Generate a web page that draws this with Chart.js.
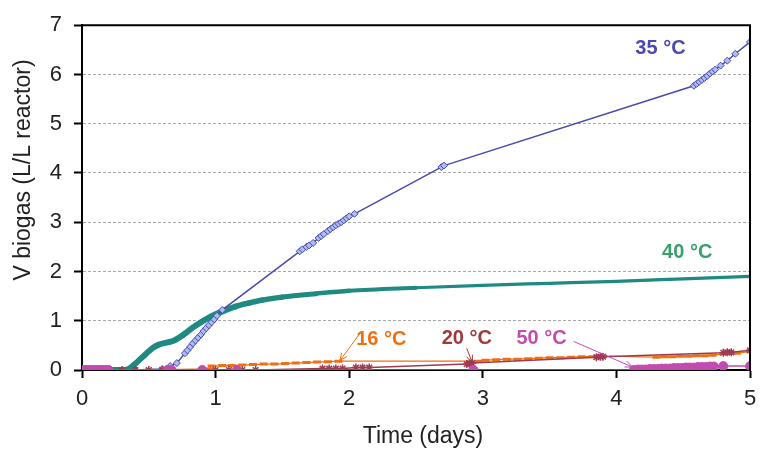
<!DOCTYPE html>
<html>
<head>
<meta charset="utf-8">
<script src="https://cdn.jsdelivr.net/npm/chart.js@4.4.1/dist/chart.umd.min.js"></script>
<style>
  html, body { margin: 0; padding: 0; background: #fff; }
</style>
</head>
<body>
<canvas id="chart" width="765" height="453"></canvas>
<script>
// [time (days), V biogas (L/L reactor)]
const xTicks = [0, 1, 2, 3, 4, 5];
const yTicks = [0, 1, 2, 3, 4, 5, 6, 7];

const temp35 = [
  [0, 0], [0.2, 0], [0.4, 0], [0.6, 0.02], [0.66, 0.08], [0.71, 0.14],
  [0.77, 0.34], [0.79, 0.4], [0.81, 0.47], [0.83, 0.54], [0.85, 0.6], [0.87, 0.66],
  [0.89, 0.72], [0.91, 0.79], [0.93, 0.85], [0.95, 0.91], [0.97, 0.97], [0.99, 1.03],
  [1.01, 1.1], [1.05, 1.22],
  [1.63, 2.41], [1.65, 2.45], [1.68, 2.5], [1.7, 2.53], [1.73, 2.58], [1.77, 2.68],
  [1.79, 2.72], [1.81, 2.76], [1.84, 2.82], [1.86, 2.86], [1.88, 2.9], [1.9, 2.94],
  [1.92, 2.97], [1.94, 3.0], [1.96, 3.04], [1.98, 3.08], [2.0, 3.12], [2.04, 3.17],
  [2.69, 4.12], [2.71, 4.15],
  [4.58, 5.77], [4.6, 5.81], [4.62, 5.85], [4.64, 5.89], [4.66, 5.93], [4.68, 5.97],
  [4.7, 6.02], [4.72, 6.06], [4.74, 6.1], [4.78, 6.18], [4.83, 6.28], [4.89, 6.42],
  [5.0, 6.66]
];

const temp40 = [
  [0, 0], [0.32, 0], [0.36, 0.04], [0.42, 0.18], [0.48, 0.33], [0.53, 0.45], [0.58, 0.52],
  [0.64, 0.56], [0.69, 0.6], [0.74, 0.68], [0.79, 0.78], [0.84, 0.88], [0.89, 0.97],
  [0.94, 1.05], [1.0, 1.13], [1.06, 1.2], [1.15, 1.29], [1.25, 1.36], [1.35, 1.42],
  [1.5, 1.48], [1.75, 1.55], [2.0, 1.61], [2.5, 1.67], [3.0, 1.72], [3.5, 1.76],
  [4.0, 1.8], [4.5, 1.85], [5.0, 1.9]
];

const temp16 = [
  [0, 0], [0.5, 0], [0.95, 0.02], [0.97, 0.08], [1.05, 0.09], [1.12, 0.09], [1.2, 0.1],
  [1.28, 0.11], [1.36, 0.12], [1.44, 0.12], [1.52, 0.13], [1.6, 0.14], [1.68, 0.15],
  [1.76, 0.16], [1.84, 0.17], [1.92, 0.18], [2.97, 0.18], [3.02, 0.2], [3.1, 0.21],
  [3.18, 0.22], [3.26, 0.22], [3.34, 0.23], [3.42, 0.24], [3.5, 0.25], [3.58, 0.25],
  [3.66, 0.26], [3.74, 0.27], [3.82, 0.27], [3.9, 0.28], [4.3, 0.26], [4.36, 0.27],
  [4.42, 0.27], [4.48, 0.28], [4.54, 0.28], [4.6, 0.29], [4.66, 0.29], [4.72, 0.3],
  [4.9, 0.34], [5.0, 0.38]
];

const temp20 = [
  [0, 0], [0.1, 0], [0.2, 0], [0.3, 0], [0.4, 0], [0.5, 0], [0.6, 0], [1.0, 0],
  [1.1, 0], [1.2, 0], [1.3, 0], [1.8, 0.03], [1.85, 0.03], [1.9, 0.03], [1.95, 0.03],
  [2.05, 0.05], [2.1, 0.05], [2.15, 0.05], [2.88, 0.12], [2.9, 0.13], [2.92, 0.14],
  [3.85, 0.26], [3.88, 0.27], [3.9, 0.27], [4.8, 0.35], [4.83, 0.36], [4.86, 0.36],
  [5.0, 0.4]
];

const temp50 = [
  [0, 0], [0.02, 0], [0.04, 0], [0.06, 0], [0.08, 0], [0.1, 0], [0.12, 0], [0.14, 0],
  [0.16, 0], [0.18, 0], [0.2, 0],
  [0.64, 0], [0.67, 0], [0.9, 0], [1.16, 0], [2.93, 0], [4.13, 0], [4.16, 0.01],
  [4.19, 0.01], [4.22, 0.01], [4.25, 0.02], [4.28, 0.02], [4.31, 0.02], [4.34, 0.03],
  [4.37, 0.03], [4.4, 0.03], [4.43, 0.04], [4.46, 0.04], [4.49, 0.04], [4.52, 0.05],
  [4.55, 0.05], [4.58, 0.05], [4.61, 0.06], [4.64, 0.06], [4.67, 0.06], [4.7, 0.07],
  [4.73, 0.07], [4.8, 0.08], [5.0, 0.08]
];

// text labels, arrows: [text, x, y, color, arrowFrom, arrowTo]
const callouts = [
  ['35 °C', 4.33, 6.53, '#4a4ab0', null, null],
  ['40 °C', 4.53, 2.38, '#3a9e6e', null, null],
  ['16 °C', 2.24, 0.62, '#ee7012', [2.08, 0.74], [1.93, 0.19]],
  ['20 °C', 2.88, 0.64, '#a03a3a', [2.88, 0.44], [2.92, 0.15]],
  ['50 °C', 3.44, 0.64, '#c24cb0', [3.68, 0.58], [4.12, 0.06]]
];

const toXY = pts => pts.map(p => ({ x: p[0], y: p[1] }));
const FONT = "'Liberation Sans', Arial, sans-serif";

const overlay = {
  id: 'overlay',
  afterDraw(chart) {
    const { ctx, chartArea: a, scales: { x, y } } = chart;
    ctx.save();
    ctx.strokeStyle = '#000';
    ctx.lineWidth = 2;
    ctx.beginPath();
    ctx.moveTo(a.left, a.top);
    ctx.lineTo(a.right, a.top);
    ctx.lineTo(a.right, a.bottom);
    ctx.stroke();

    // axis titles
    ctx.fillStyle = '#222';
    ctx.font = '23px ' + FONT;
    ctx.textAlign = 'center';
    ctx.textBaseline = 'middle';
    ctx.fillText('Time (days)', 423, 437);
    ctx.translate(24, 170);
    ctx.rotate(-Math.PI / 2);
    ctx.fillText('V biogas (L/L reactor)', 0, 0);
    ctx.setTransform(1, 0, 0, 1, 0, 0);

    callouts.forEach(([text, cx, cy, color, from, to]) => {
      ctx.fillStyle = color;
      ctx.font = 'bold 20px ' + FONT;
      ctx.fillText(text, x.getPixelForValue(cx), y.getPixelForValue(cy));
      if (from) {
        const x1 = x.getPixelForValue(from[0]), y1 = y.getPixelForValue(from[1]);
        const x2 = x.getPixelForValue(to[0]), y2 = y.getPixelForValue(to[1]);
        const ang = Math.atan2(y2 - y1, x2 - x1);
        ctx.strokeStyle = color;
        ctx.lineWidth = 1;
        ctx.beginPath();
        ctx.moveTo(x1, y1);
        ctx.lineTo(x2, y2);
        ctx.moveTo(x2 - 8 * Math.cos(ang - 0.4), y2 - 8 * Math.sin(ang - 0.4));
        ctx.lineTo(x2, y2);
        ctx.lineTo(x2 - 8 * Math.cos(ang + 0.4), y2 - 8 * Math.sin(ang + 0.4));
        ctx.stroke();
      }
    });
    ctx.restore();
  }
};

new Chart(document.getElementById('chart'), {
  type: 'scatter',
  data: {
    datasets: [
      {
        label: '50 °C', data: toXY(temp50), showLine: true, order: 0,
        borderColor: '#c24cb0', backgroundColor: '#c24cb0', borderWidth: 1.5,
        pointStyle: 'circle', pointRadius: 4.5, pointBorderWidth: 1
      },
      {
        label: '20 °C', data: toXY(temp20), showLine: true, order: 1,
        borderColor: '#9e3a52', backgroundColor: '#9e3a52', borderWidth: 1.5,
        pointStyle: 'star', pointRadius: 4, pointBorderWidth: 1.5
      },
      {
        label: '16 °C', data: toXY(temp16), showLine: true, order: 2,
        borderColor: '#ee7012', backgroundColor: '#ee7012', borderWidth: 1.3,
        pointStyle: 'line', pointRadius: 4, pointBorderWidth: 3
      },
      {
        label: '35 °C', data: toXY(temp35), showLine: true, order: 3,
        borderColor: '#4a4ab0', backgroundColor: '#aabcf0', borderWidth: 1.5,
        pointStyle: 'rectRot', pointRadius: 3.5, pointBorderWidth: 1, pointBorderColor: '#4a4ab0'
      },
      {
        label: '40 °C', data: toXY(temp40), showLine: true, order: 4,
        borderColor: '#1f8a82', backgroundColor: '#1f8a82', borderWidth: 5,
        borderCapStyle: 'round',
        segment: { borderWidth: c => Math.max(3.2, Math.min(6, 6 - 2 * (c.p0.parsed.x - 1))) },
        pointRadius: 0, cubicInterpolationMode: 'monotone'
      }
    ]
  },
  options: {
    responsive: false,
    animation: false,
    layout: { padding: { top: 22, right: 15, left: 0, bottom: 0 } },
    plugins: { legend: { display: false }, tooltip: { enabled: false } },
    scales: {
      x: {
        type: 'linear', min: 0, max: 5,
        afterBuildTicks: s => { s.ticks = xTicks.map(v => ({ value: v })); },
        afterFit: s => { s.height = 83; },
        ticks: { color: '#222', font: { size: 22, family: FONT }, padding: 8 },
        grid: { drawOnChartArea: false, tickLength: 8, tickColor: '#000', tickWidth: 2 },
        border: { color: '#000', width: 2 }
      },
      y: {
        min: 0, max: 7,
        afterBuildTicks: s => { s.ticks = yTicks.map(v => ({ value: v })); },
        afterFit: s => { s.width = 82; },
        ticks: { color: '#222', font: { size: 22, family: FONT }, padding: 12 },
        grid: {
          color: c => (c.tick && (c.tick.value === 0 || c.tick.value === 7)) ? 'rgba(0,0,0,0)' : '#a8a8a8',
          lineWidth: 1, tickLength: 8, tickColor: '#000', tickWidth: 2
        },
        border: { color: '#000', width: 2, dash: [3, 2] }
      }
    }
  },
  plugins: [overlay]
});
</script>
</body>
</html>
